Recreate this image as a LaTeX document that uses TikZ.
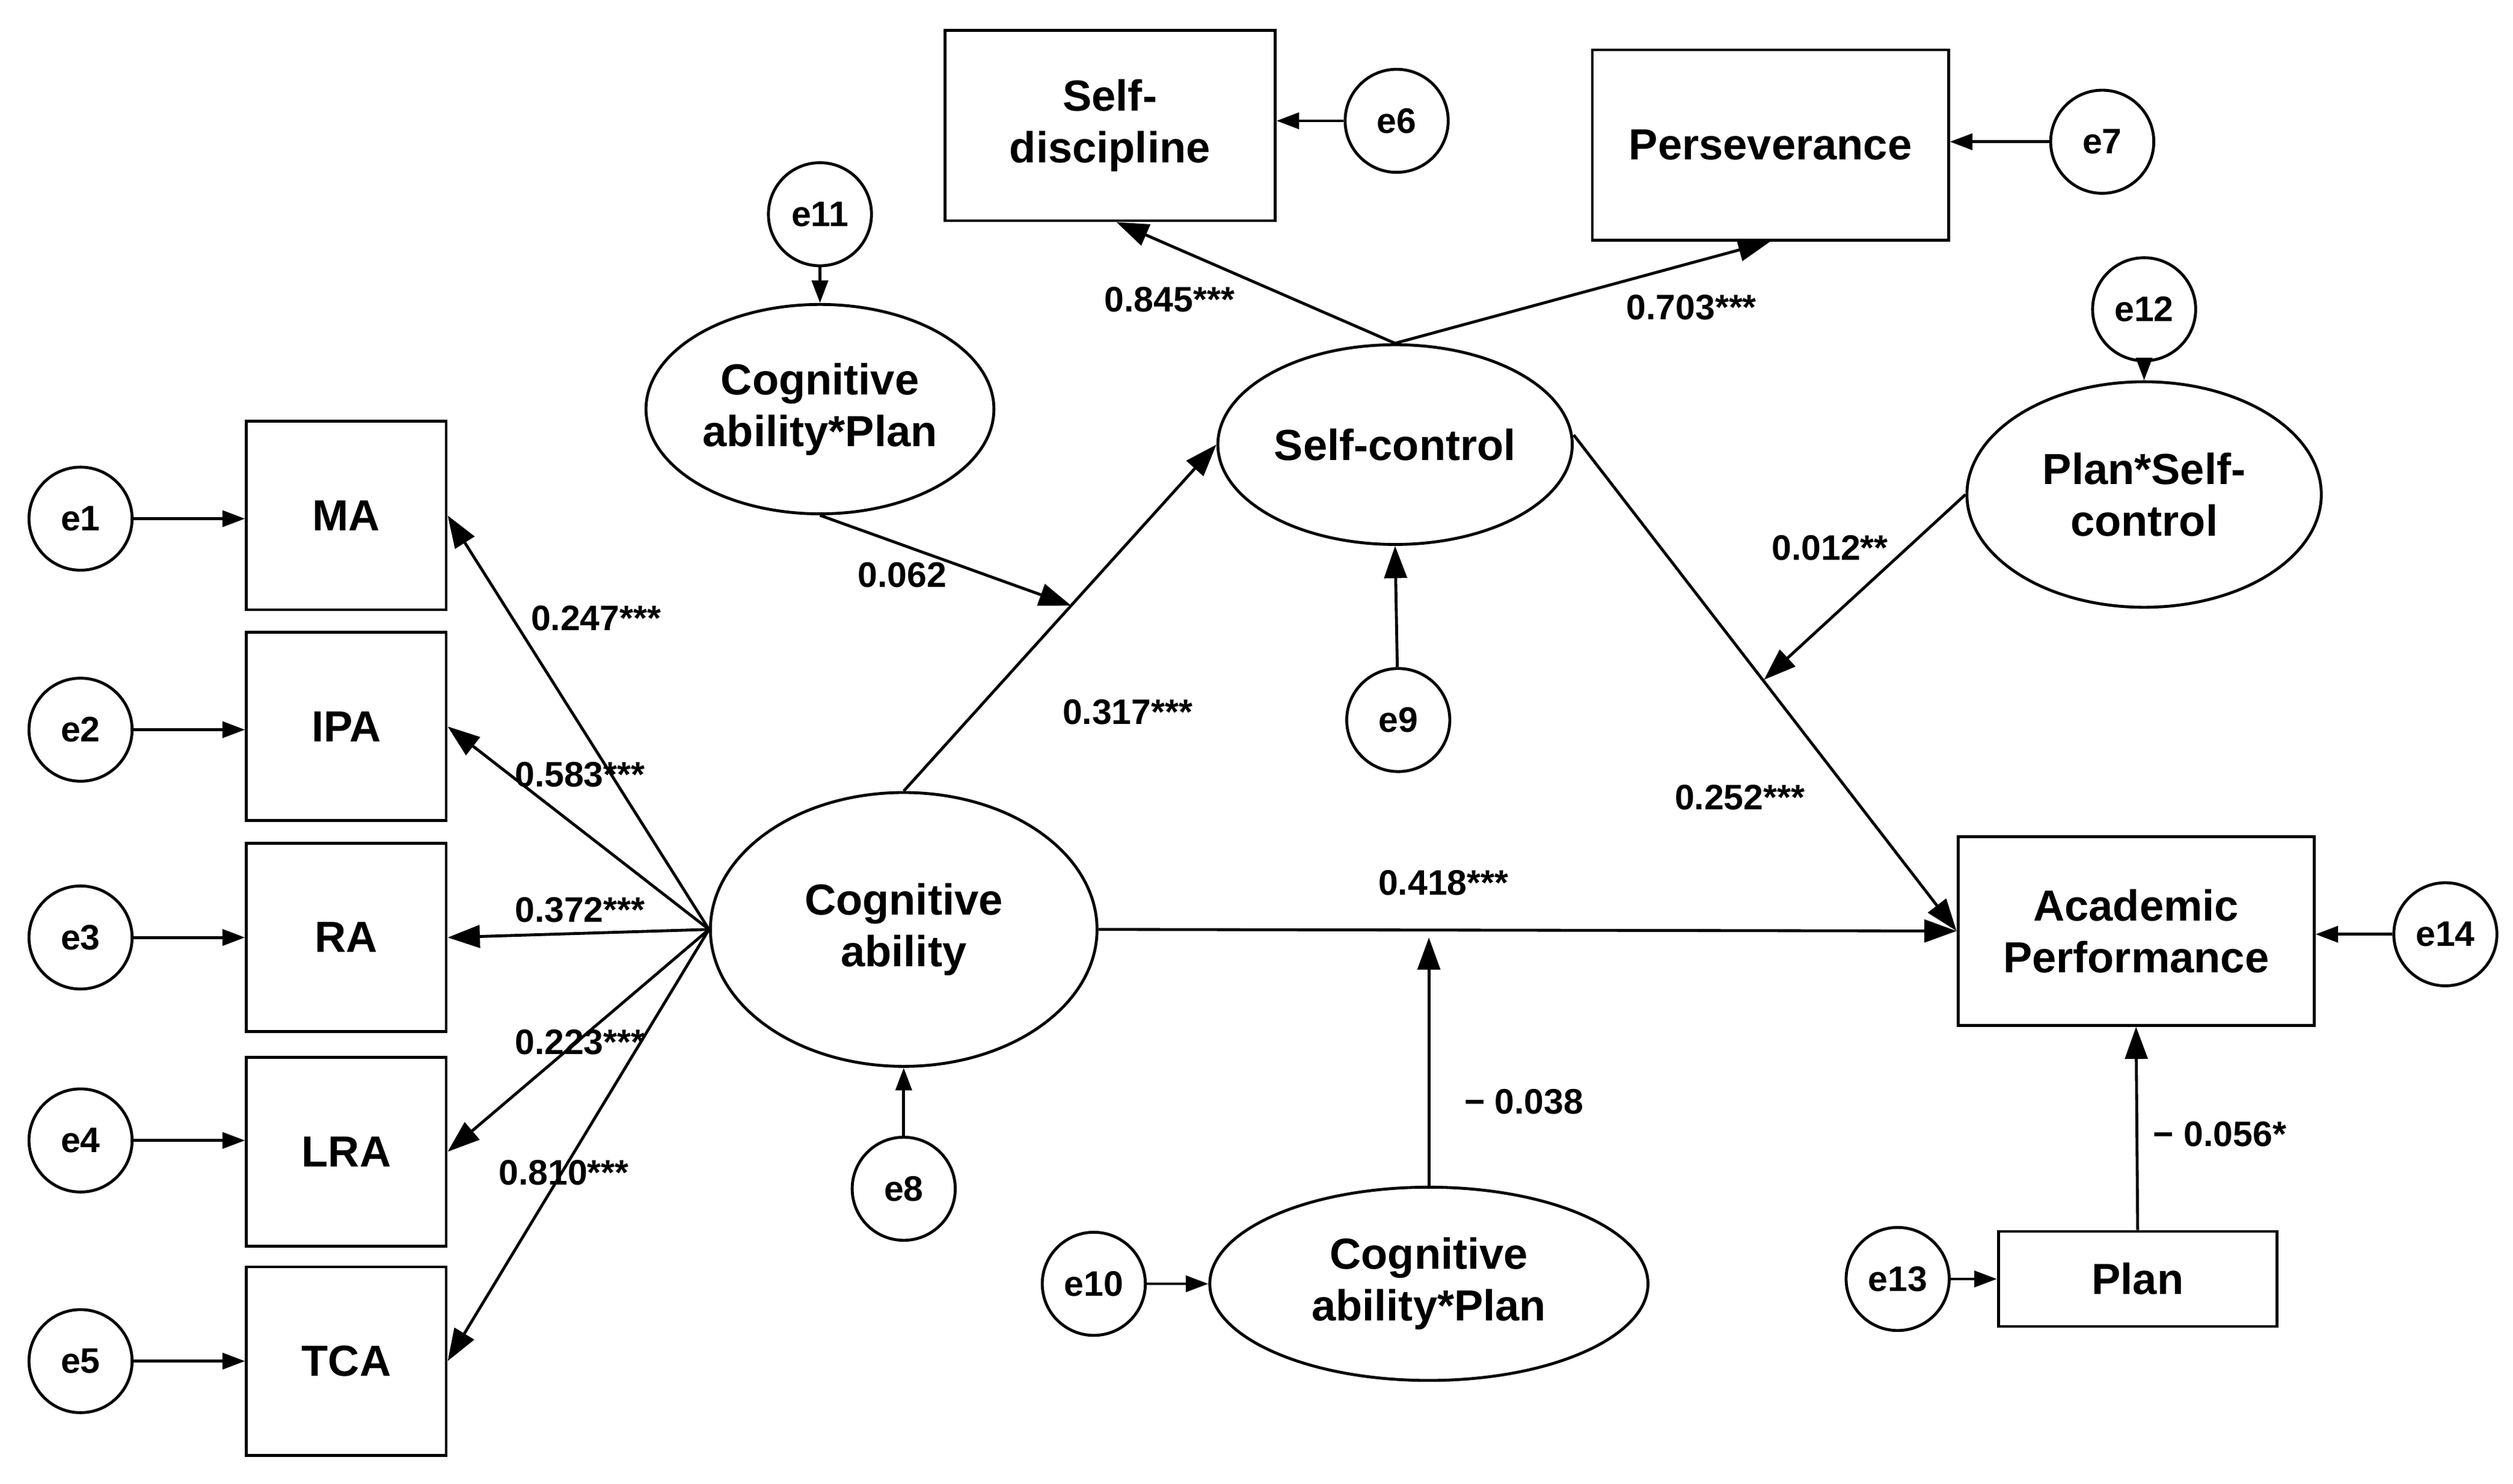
\documentclass[tikz,border=0pt]{standalone}
\usepackage{fontspec}
\setmainfont{Liberation Sans}
\usetikzlibrary{arrows.meta,shapes.geometric}
\begin{document}
\begin{tikzpicture}[x=1pt,y=-1pt,line width=1.8pt,
  big/.style={font=\bfseries\fontsize{27}{32}\selectfont,align=center},
  box/.style={big,draw,rectangle,inner sep=0pt},
  ell/.style={big,draw,ellipse,inner sep=0pt},
  err/.style={draw,circle,minimum size=64pt,inner sep=0pt,font=\bfseries\fontsize{22}{26}\selectfont},
  lab/.style={font=\bfseries\fontsize{22}{26}\selectfont},
  arr/.style={-{Triangle[length=20pt,width=14pt]}},
  sarr/.style={-{Triangle[length=14pt,width=10pt]}}]
\useasboundingbox (0,0) rectangle (1560,921);
% error circles
\node[err] (e1) at (50,322) {e1};
\node[err] (e2) at (50,453) {e2};
\node[err] (e3) at (50,582) {e3};
\node[err] (e4) at (50,708) {e4};
\node[err] (e5) at (50,845) {e5};
\node[err] (e6) at (867,75) {e6};
\node[err] (e7) at (1305,88) {e7};
\node[err] (e8) at (561,738) {e8};
\node[err] (e9) at (868,447) {e9};
\node[err] (e10) at (679,797) {e10};
\node[err] (e11) at (509,133) {e11};
\node[err] (e12) at (1331,192) {e12};
\node[err] (e13) at (1178,794) {e13};
\node[err] (e14) at (1518,580) {e14};
% boxes
\node[box,minimum width=124pt,minimum height=117pt] (ma) at (215,320) {MA};
\node[box,minimum width=124pt,minimum height=117pt] (ipa) at (215,451) {IPA};
\node[box,minimum width=124pt,minimum height=117pt] (ra) at (215,582) {RA};
\node[box,minimum width=124pt,minimum height=117pt] (lra) at (215,715) {LRA};
\node[box,minimum width=124pt,minimum height=117pt] (tca) at (215,845) {TCA};
\node[box,minimum width=205pt,minimum height=118pt] (sd) at (689,78) {Self-\\discipline};
\node[box,minimum width=221pt,minimum height=118pt] (pe) at (1099,90) {Perseverance};
\node[box,minimum width=221pt,minimum height=117pt] (ap) at (1326,578) {Academic\\Performance};
\node[box,minimum width=173pt,minimum height=59pt] (pl) at (1327,794) {Plan};
% ellipses
\node[ell,minimum width=240pt,minimum height=170pt] (ca) at (561,577) {Cognitive\\ability};
\node[ell,minimum width=216pt,minimum height=130pt] (m1) at (509,254) {Cognitive\\ability*Plan};
\node[ell,minimum width=220pt,minimum height=124pt] (sc) at (866,276) {Self-control};
\node[ell,minimum width=220pt,minimum height=140pt] (m2) at (1331,307) {Plan*Self-\\control};
\node[ell,minimum width=272pt,minimum height=120pt] (m3) at (887,797) {Cognitive\\ability*Plan};
% error arrows
\foreach \e/\t in {e1/ma,e2/ipa,e3/ra,e4/lra,e5/tca} \draw[sarr] (\e) -- (\e -| \t.west);
\draw[sarr] (e6) -- (e6 -| sd.east);
\draw[sarr] (e7) -- (e7 -| pe.east);
\draw[sarr] (e14) -- (e14 -| ap.east);
\draw[sarr] (e13) -- (e13 -| pl.west);
\draw[sarr] (e10) -- (e10 -| m3.west);
\draw[sarr] (e11) -- (m1.north);
\draw[sarr] (e12) -- (m2.north);
\draw[sarr] (e8) -- (ca.south);
\draw[arr] (e9) -- (sc.south);
% loadings
\draw[arr] (ca.west) -- (ma.east);
\draw[arr] (ca.west) -- (ipa.east);
\draw[arr] (ca.west) -- (ra.east);
\draw[arr] (ca.west) -- (lra.east);
\draw[arr] (ca.west) -- (tca.east);
\node[lab] at (370,384) {0.247***};
\node[lab] at (360,481) {0.583***};
\node[lab] at (360,565) {0.372***};
\node[lab] at (360,647) {0.223***};
\node[lab] at (350,728) {0.810***};
% structural
\draw[arr] (ca.north) -- (sc.west);
\node[lab] at (700,442) {0.317***};
\coordinate (c1) at (665,376);
\draw[arr] (m1.south) -- (c1);
\node[lab] at (560,357) {0.062};
\draw[arr] (sc.north) -- ([xshift=4pt]sd.south);
\draw[arr] (sc.north) -- (pe.south);
\node[lab] at (726,186) {0.845***};
\node[lab] at (1050,191) {0.703***};
\draw[arr] (sc.east) ++(0,6pt) -- (ap.west);
\node[lab] at (1080,495) {0.252***};
\coordinate (c2) at (1095,422);
\draw[arr] (m2.west) -- (c2);
\node[lab] at (1136,340) {0.012**};
\draw[arr] (ca.east) -- (ap.west);
\node[lab] at (896,548) {0.418***};
\coordinate (c3) at (887,582);
\draw[arr] (m3.north) -- (c3);
\node[lab] at (946,684) {\textminus{} 0.038};
\draw[arr] (pl.north) -- (ap.south);
\node[lab] at (1378,704) {\textminus{} 0.056*};
\end{tikzpicture}
\end{document}
